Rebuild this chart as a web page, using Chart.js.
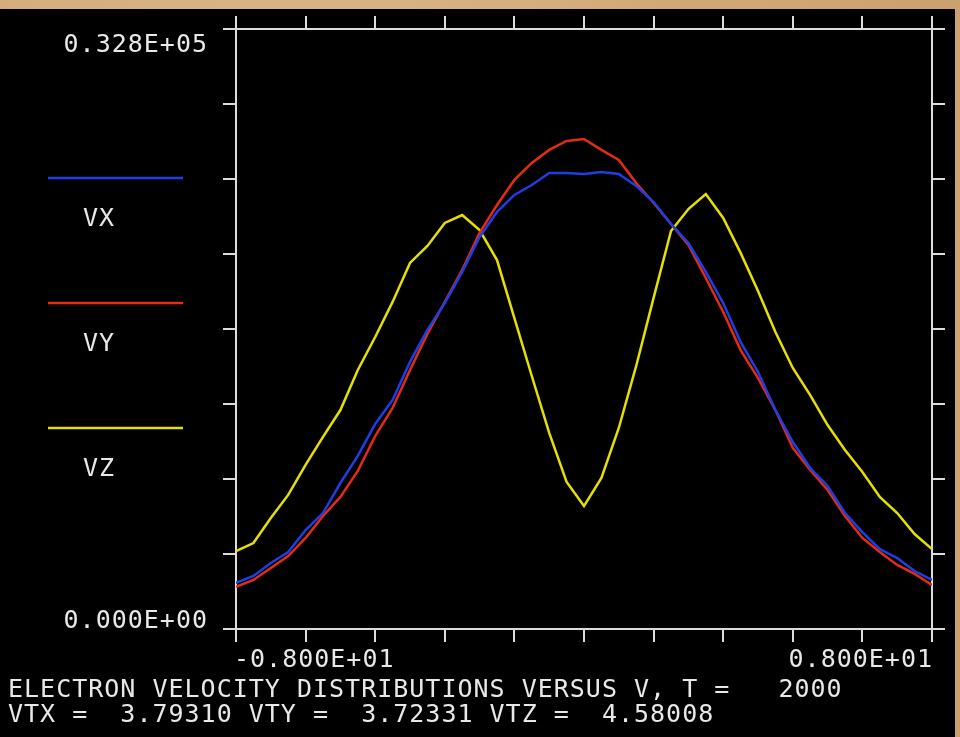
<!DOCTYPE html>
<html>
<head>
<meta charset="utf-8">
<script src="https://cdn.jsdelivr.net/npm/chart.js@4.4.1/dist/chart.umd.min.js"></script>
<style>
  html, body { margin: 0; padding: 0; }
  body {
    width: 960px; height: 737px; overflow: hidden;
    background: #d4ae7d;
    background-image: radial-gradient(circle at 30% 40%, #e2c296 0, #d1a977 60%, #c99f6c 100%);
  }
  #screen { position: absolute; left: 0; top: 9px; width: 955px; height: 728px; background: #000; }
</style>
</head>
<body>
<div id="screen"><canvas id="myChart" width="955" height="728"></canvas></div>
<script>
// velocity bins (x axis)
const velocity = [-8.0, -7.6, -7.2, -6.8, -6.4, -6.0, -5.6, -5.2, -4.8, -4.4, -4.0, -3.6, -3.2, -2.8, -2.4,
  -2.0, -1.6, -1.2, -0.8, -0.4, 0.0, 0.4, 0.8, 1.2, 1.6, 2.0, 2.4, 2.8, 3.2, 3.6, 4.0, 4.4, 4.8, 5.2,
  5.6, 6.0, 6.4, 6.8, 7.2, 7.6, 8.0];

// distribution counts per component
const vx = [2520, 2900, 3610, 4210, 5410, 6340, 7980, 9460, 11210, 12520, 14600, 16350, 17820, 19520, 21430,
  22800, 23730, 24270, 24930, 24930, 24870, 24980, 24870, 24220, 23340, 22140, 21100, 19520, 17820, 15690,
  14050, 11970, 10220, 8800, 7820, 6340, 5300, 4370, 3880, 3170, 2680];
const vy = [2300, 2680, 3340, 3990, 4980, 6180, 7220, 8640, 10550, 12080, 14160, 16130, 17880, 19630, 21650,
  23180, 24550, 25480, 26190, 26680, 26790, 26190, 25640, 24380, 23290, 22140, 20990, 19190, 17330, 15250,
  13720, 11970, 9900, 8690, 7600, 6180, 4980, 4210, 3500, 3010, 2410];
const vz = [4260, 4700, 6070, 7330, 8970, 10500, 11970, 14160, 15960, 17880, 20010, 20940, 22200, 22630, 21810,
  20170, 17000, 13830, 10720, 8040, 6720, 8260, 10990, 14380, 18100, 21760, 22960, 23780, 22470, 20560,
  18480, 16240, 14270, 12790, 11150, 9790, 8580, 7220, 6340, 5190, 4370];

const seriesNames = ['VX', 'VY', 'VZ'];
const xMin = -8, xMax = 8;
const yMin = 0, yMax = 32800;
const xTickLabels = ['-0.800E+01', '0.800E+01'];
const yTickLabels = ['0.000E+00', '0.328E+05'];
const titleLines = [
  'ELECTRON VELOCITY DISTRIBUTIONS VERSUS V, T =   2000',
  'VTX =  3.79310 VTY =  3.72331 VTZ =  4.58008'
];

const AXIS = '#dcdcdc';
const TEXT = '#e8e8e8';
const FONT = '25px "DejaVu Sans Mono", monospace';

function pts(arr) {
  return arr.map((v, i) => ({ x: velocity[i], y: v }));
}

function frameAxis(position, min, max, count, size, horizontal) {
  return {
    type: 'linear',
    position: position,
    min: min,
    max: max,
    ticks: { display: false, count: count },
    grid: { drawOnChartArea: false, drawTicks: true, tickLength: 13, color: AXIS, lineWidth: 2 },
    border: { display: true, color: AXIS, width: 2 },
    afterFit: function (scale) {
      if (horizontal) scale.height = size; else scale.width = size;
    }
  };
}

// text, end labels and the side legend
const screenText = {
  id: 'screenText',
  afterDraw: function (chart) {
    const ctx = chart.ctx;
    const sx = chart.scales.x, sy = chart.scales.y;
    ctx.save();
    ctx.font = FONT;
    ctx.letterSpacing = '1px';
    ctx.fillStyle = TEXT;
    ctx.textBaseline = 'alphabetic';

    // y end labels
    ctx.textAlign = 'right';
    ctx.fillText(yTickLabels[1], sx.left - 28, sy.getPixelForValue(yMax) + 23);
    ctx.fillText(yTickLabels[0], sx.left - 28, sy.getPixelForValue(yMin) - 1);

    // x end labels
    const xb = sy.bottom + 38;
    ctx.textAlign = 'left';
    ctx.fillText(xTickLabels[0], sx.getPixelForValue(xMin) - 2, xb);
    ctx.textAlign = 'right';
    ctx.fillText(xTickLabels[1], sx.getPixelForValue(xMax) + 1, xb);

    // title lines
    ctx.textAlign = 'left';
    ctx.fillText(titleLines[0], 8, 688);
    ctx.fillText(titleLines[1], 8, 713);

    // legend
    chart.data.datasets.forEach(function (ds, i) {
      const ly = 169 + i * 125;
      ctx.strokeStyle = ds.borderColor;
      ctx.lineWidth = 2.5;
      ctx.beginPath();
      ctx.moveTo(48, ly);
      ctx.lineTo(183, ly);
      ctx.stroke();
      ctx.fillStyle = TEXT;
      ctx.fillText(ds.label, 83, ly + 48);
    });
    ctx.restore();
  }
};

const ctx = document.getElementById('myChart').getContext('2d');
const chart = new Chart(ctx, {
  type: 'line',
  data: {
    datasets: [
      { label: seriesNames[0], data: pts(vx), borderColor: '#1e3ee6' },
      { label: seriesNames[1], data: pts(vy), borderColor: '#e42c12' },
      { label: seriesNames[2], data: pts(vz), borderColor: '#e6e000' }
    ]
  },
  options: {
    responsive: false,
    animation: false,
    devicePixelRatio: 1,
    layout: { padding: 0 },
    elements: {
      line: { borderWidth: 2.5, tension: 0, fill: false },
      point: { radius: 0 }
    },
    plugins: { legend: { display: false }, tooltip: { enabled: false } },
    scales: {
      x: frameAxis('bottom', xMin, xMax, 11, 108, true),
      x2: frameAxis('top', xMin, xMax, 11, 20, true),
      y: frameAxis('left', yMin, yMax, 9, 236, false),
      y2: frameAxis('right', yMin, yMax, 9, 23, false)
    }
  },
  plugins: [screenText]
});
</script>
</body>
</html>
